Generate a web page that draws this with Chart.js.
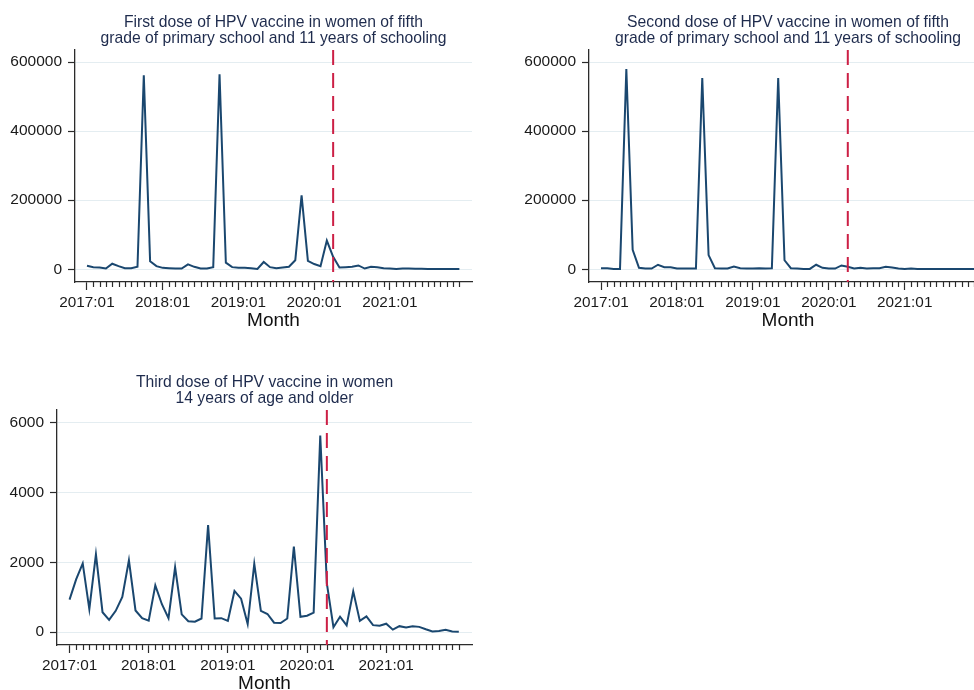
<!DOCTYPE html>
<html lang="en">
<head>
    <meta charset="UTF-8">
    <title>HPV vaccine doses by month</title>
    <script src="https://cdn.jsdelivr.net/npm/chart.js"></script>
</head>
<style>
    html, body {
        margin: 0;
        padding: 0;
        background: white;
        overflow: hidden;
    }
    .page {
        position: relative;
        width: 974px;
        height: 690px;
        overflow: hidden;
    }
    .page canvas {
        position: absolute;
    }
</style>
<body>
    <div class="page">
        <canvas id="firstChart" width="490" height="335" style="left:0;top:0"></canvas>
        <canvas id="secondChart" width="491" height="335" style="left:514px;top:0"></canvas>
        <canvas id="thirdChart" width="490" height="338" style="left:0;top:360px"></canvas>
    </div>
    <script>
        // tick labels on the month axis (month index 0 = 2017:01)
        const yearStarts = [0, 12, 24, 36, 48];
        const yearLabels = ["2017:01", "2018:01", "2019:01", "2020:01", "2021:01"];
        const interventionMonth = 39; // 2020:04

        // months 2017:01 .. 2021:12
        const months = [];
        for (let y = 2017; y <= 2021; y++) {
            for (let m = 1; m <= 12; m++) {
                months.push(y + ":" + String(m).padStart(2, "0"));
            }
        }

        const firstDose = [
            10000, 6000, 5000, 2000, 16000, 9000, 3000, 3000, 7000, 562000,
            23000, 9000, 4000, 3000, 2000, 2000, 14000, 7000, 2000, 2000,
            6000, 565000, 19000, 6000, 4000, 4000, 3000, 1000, 21000, 6000,
            3000, 5000, 7000, 26000, 214000, 24000, 15000, 9000, 83000, 36000,
            5000, 6000, 7000, 11000, 2000, 7000, 6000, 3000, 2000, 1000,
            2000, 2000, 1500, 1500, 1000, 500, 500, 500, 300, 300
        ];
        const secondDose = [
            3000, 3000, 1000, 1000, 580000, 56000, 4000, 2000, 2000, 13000,
            6000, 6000, 2000, 2000, 2000, 2000, 554000, 41000, 3000, 2000,
            2000, 8000, 3000, 2000, 2000, 3000, 2000, 3000, 554000, 26000,
            3000, 2000, 1000, 1000, 13000, 4000, 2000, 2000, 11000, 7000,
            2000, 4000, 2000, 3000, 3000, 7000, 5000, 2000, 1000, 2000,
            1000, 1000, 1000, 1000, 500, 300, 300, 300, 300, 300
        ];
        const thirdDose = [
            930, 1510, 1970, 660, 2230, 570, 350, 610, 1010, 2060,
            620, 400, 330, 1340, 800, 400, 1860, 510, 310, 300,
            390, 3070, 390, 400, 320, 1180, 960, 230, 1960, 610,
            520, 270, 260, 390, 2450, 440, 470, 560, 5640, 1400,
            140, 440, 190, 1170, 320, 450, 200, 180, 240, 70,
            170, 130, 170, 150, 80, 20, 30, 70, 20, 10
        ];

        const bigTicks = [0, 200000, 400000, 600000];
        const smallTicks = [0, 2000, 4000, 6000];

        const FONT = "'Liberation Sans', Arial, sans-serif";
        const AXIS = "#2b2b2b";

        // minor month ticks + dashed line at the intervention month
        const monthMarks = {
            id: "monthMarks",
            afterDatasetsDraw(chart) {
                const x = chart.scales.x;
                const area = chart.chartArea;
                const ctx = chart.ctx;
                ctx.save();
                ctx.strokeStyle = "#cc1f45";
                ctx.lineWidth = 2;
                ctx.setLineDash([15, 8]);
                const px = x.getPixelForValue(interventionMonth);
                ctx.beginPath();
                ctx.moveTo(px, area.top);
                ctx.lineTo(px, area.bottom);
                ctx.stroke();
                ctx.restore();
            },
            afterDraw(chart) {
                const x = chart.scales.x;
                const ctx = chart.ctx;
                const top = chart.chartArea.bottom;
                ctx.save();
                ctx.strokeStyle = AXIS;
                ctx.lineWidth = 1.2;
                months.forEach((m, i) => {
                    if (i % 12 === 0) return;
                    const px = Math.round(x.getPixelForValue(i)) + 0.5;
                    ctx.beginPath();
                    ctx.moveTo(px, top);
                    ctx.lineTo(px, top + 5);
                    ctx.stroke();
                });
                ctx.restore();
            }
        };

        function makeChart(id, title, values, yTicks, yMin, yMax, yWidth) {
            const ctx = document.getElementById(id).getContext("2d");
            return new Chart(ctx, {
                type: "line",
                data: {
                    datasets: [{
                        data: values.map((v, i) => ({ x: i, y: v })),
                        borderColor: "#1a476f",
                        borderWidth: 2,
                        pointRadius: 0,
                        tension: 0,
                        fill: false
                    }]
                },
                options: {
                    responsive: false,
                    animation: false,
                    layout: { padding: { left: 0, right: 18, top: 0, bottom: 0 } },
                    plugins: {
                        legend: { display: false },
                        tooltip: { enabled: false },
                        title: {
                            display: true,
                            text: title,
                            fullSize: false,
                            color: "#1e2b4d",
                            font: { family: FONT, size: 15.7, weight: "normal", lineHeight: 1.02 },
                            padding: { top: 15, bottom: 3 }
                        }
                    },
                    scales: {
                        x: {
                            type: "linear",
                            min: -1.9,
                            max: 61,
                            afterBuildTicks: (scale) => {
                                scale.ticks = yearStarts.map(v => ({ value: v }));
                            },
                            afterFit: (scale) => { scale.height = 53; },
                            ticks: {
                                autoSkip: false,
                                maxRotation: 0,
                                padding: 4,
                                color: "#1a1a1a",
                                font: { family: FONT, size: 15.3 },
                                callback: (v) => yearLabels[yearStarts.indexOf(v)]
                            },
                            grid: {
                                drawOnChartArea: false,
                                tickLength: 8,
                                tickColor: AXIS,
                                tickWidth: 1.2
                            },
                            border: { color: AXIS, width: 1.3 },
                            title: {
                                display: true,
                                text: "Month",
                                color: "#111",
                                font: { family: FONT, size: 19 },
                                padding: { top: 0, bottom: 3 }
                            }
                        },
                        y: {
                            min: yMin,
                            max: yMax,
                            afterBuildTicks: (scale) => {
                                scale.ticks = yTicks.map(v => ({ value: v }));
                            },
                            afterFit: (scale) => { scale.width = yWidth; },
                            ticks: {
                                padding: 6,
                                color: "#1a1a1a",
                                font: { family: FONT, size: 15.5 },
                                callback: (v) => String(v)
                            },
                            grid: {
                                color: "#e4edf1",
                                lineWidth: 1,
                                tickLength: 7,
                                tickColor: AXIS,
                                tickWidth: 1.2
                            },
                            border: { color: AXIS, width: 1.3 }
                        }
                    }
                },
                plugins: [monthMarks]
            });
        }

        makeChart("firstChart",
            ["First dose of HPV vaccine in women of fifth", "grade of primary school and 11 years of schooling"],
            firstDose, bigTicks, -37000, 635000, 75);
        makeChart("secondChart",
            ["Second dose of HPV vaccine in women of fifth", "grade of primary school and 11 years of schooling"],
            secondDose, bigTicks, -37000, 635000, 75);
        makeChart("thirdChart",
            ["Third dose of HPV vaccine in women", "14 years of age and older"],
            thirdDose, smallTicks, -370, 6370, 57);
    </script>
</body>
</html>
